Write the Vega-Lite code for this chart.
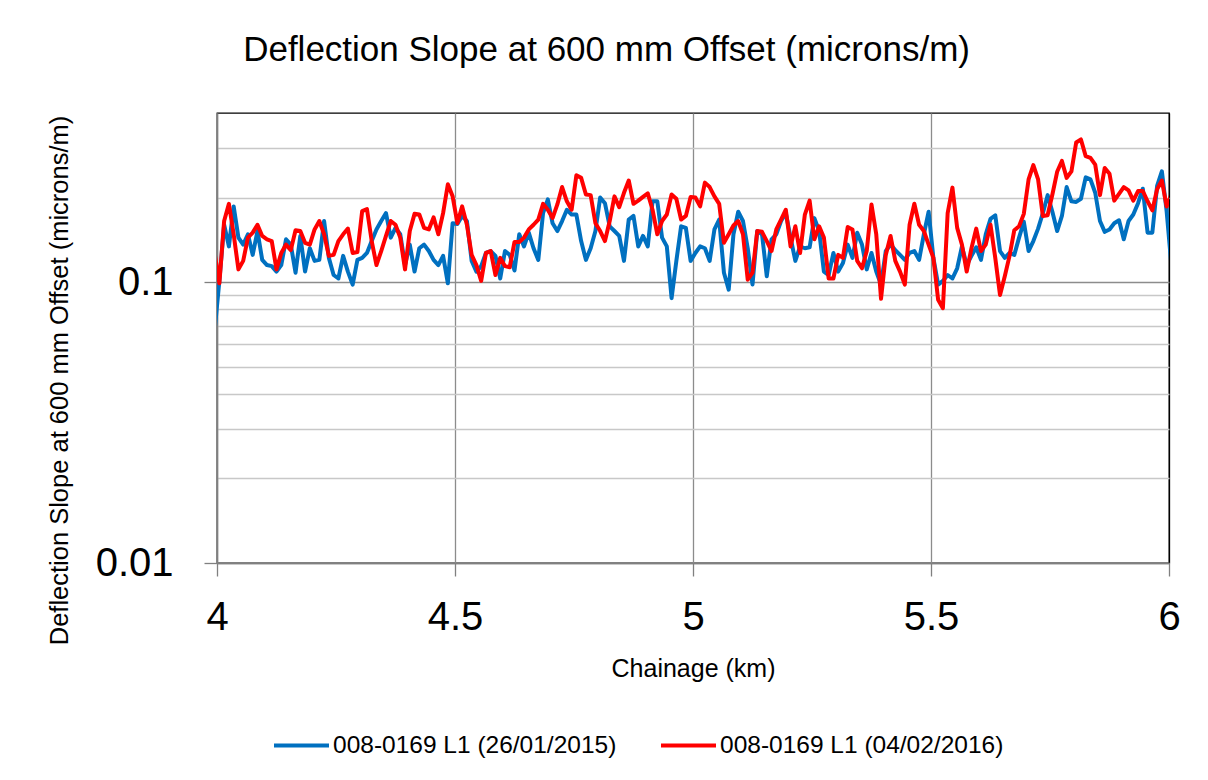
{
  "$schema": "https://vega.github.io/schema/vega-lite/v6.json",
  "width": 952,
  "height": 450,
  "autosize": "none",
  "padding": {"left": 217, "top": 113, "right": 39, "bottom": 217},
  "background": "white",
  "config": {"view": {"stroke": "#000000", "strokeWidth": 1.3}, "font": "Liberation Sans"},
  "title": {"text": "Deflection Slope at 600 mm Offset (microns/m)", "fontSize": 35, "font": "Liberation Sans", "fontWeight": "normal", "color": "#000000", "anchor": "middle", "frame": "bounds", "baseline": "bottom", "offset": 10, "dx": -7},
  "data": {"values": [
    {"c":3.995,"b":0.067,"r":0.127},{"c":4.005,"b":0.101,"r":0.099},{"c":4.015,"b":0.160,"r":0.165},{"c":4.025,"b":0.134,"r":0.190},{"c":4.035,"b":0.186,"r":0.148},{"c":4.045,"b":0.144,"r":0.111},{"c":4.055,"b":0.136,"r":0.119},{"c":4.065,"b":0.148,"r":0.144},{"c":4.075,"b":0.125,"r":0.150},{"c":4.085,"b":0.152,"r":0.160},{"c":4.095,"b":0.120,"r":0.146},
    {"c":4.105,"b":0.115,"r":0.142},{"c":4.115,"b":0.114,"r":0.140},{"c":4.125,"b":0.109,"r":0.111},{"c":4.135,"b":0.115,"r":0.127},{"c":4.145,"b":0.142,"r":0.136},{"c":4.155,"b":0.136,"r":0.130},{"c":4.165,"b":0.108,"r":0.153},{"c":4.175,"b":0.146,"r":0.152},{"c":4.185,"b":0.109,"r":0.138},{"c":4.195,"b":0.132,"r":0.136},
    {"c":4.205,"b":0.119,"r":0.154},{"c":4.215,"b":0.120,"r":0.165},{"c":4.225,"b":0.165,"r":0.148},{"c":4.235,"b":0.122,"r":0.124},{"c":4.245,"b":0.106,"r":0.125},{"c":4.255,"b":0.103,"r":0.140},{"c":4.265,"b":0.124,"r":0.148},{"c":4.275,"b":0.109,"r":0.155},{"c":4.285,"b":0.098,"r":0.127},{"c":4.295,"b":0.120,"r":0.128},
    {"c":4.305,"b":0.122,"r":0.179},{"c":4.315,"b":0.127,"r":0.182},{"c":4.325,"b":0.140,"r":0.140},{"c":4.335,"b":0.154,"r":0.115},{"c":4.345,"b":0.165,"r":0.129},{"c":4.355,"b":0.176,"r":0.146},{"c":4.365,"b":0.144,"r":0.165},{"c":4.375,"b":0.156,"r":0.160},{"c":4.385,"b":0.148,"r":0.144},{"c":4.395,"b":0.115,"r":0.111},
    {"c":4.405,"b":0.136,"r":0.152},{"c":4.415,"b":0.109,"r":0.175},{"c":4.425,"b":0.132,"r":0.174},{"c":4.435,"b":0.136,"r":0.156},{"c":4.445,"b":0.129,"r":0.154},{"c":4.455,"b":0.120,"r":0.170},{"c":4.465,"b":0.115,"r":0.148},{"c":4.475,"b":0.124,"r":0.176},{"c":4.485,"b":0.099,"r":0.223},{"c":4.495,"b":0.162,"r":0.202},
    {"c":4.505,"b":0.161,"r":0.162},{"c":4.515,"b":0.172,"r":0.186},{"c":4.525,"b":0.165,"r":0.160},{"c":4.535,"b":0.119,"r":0.125},{"c":4.545,"b":0.109,"r":0.115},{"c":4.555,"b":0.114,"r":0.101},{"c":4.565,"b":0.127,"r":0.127},{"c":4.575,"b":0.129,"r":0.129},{"c":4.585,"b":0.124,"r":0.106},{"c":4.595,"b":0.103,"r":0.122},
    {"c":4.605,"b":0.129,"r":0.114},{"c":4.615,"b":0.125,"r":0.113},{"c":4.625,"b":0.110,"r":0.139},{"c":4.635,"b":0.148,"r":0.139},{"c":4.645,"b":0.134,"r":0.144},{"c":4.655,"b":0.150,"r":0.154},{"c":4.665,"b":0.132,"r":0.160},{"c":4.675,"b":0.120,"r":0.167},{"c":4.685,"b":0.176,"r":0.190},{"c":4.695,"b":0.197,"r":0.181},
    {"c":4.705,"b":0.162,"r":0.169},{"c":4.715,"b":0.152,"r":0.189},{"c":4.725,"b":0.165,"r":0.218},{"c":4.735,"b":0.181,"r":0.194},{"c":4.745,"b":0.174,"r":0.181},{"c":4.755,"b":0.174,"r":0.240},{"c":4.765,"b":0.140,"r":0.235},{"c":4.775,"b":0.120,"r":0.205},{"c":4.785,"b":0.132,"r":0.204},{"c":4.795,"b":0.152,"r":0.162},
    {"c":4.805,"b":0.200,"r":0.152},{"c":4.815,"b":0.191,"r":0.140},{"c":4.825,"b":0.158,"r":0.165},{"c":4.835,"b":0.152,"r":0.202},{"c":4.845,"b":0.146,"r":0.185},{"c":4.855,"b":0.119,"r":0.208},{"c":4.865,"b":0.167,"r":0.230},{"c":4.875,"b":0.172,"r":0.190},{"c":4.885,"b":0.134,"r":0.195},{"c":4.895,"b":0.146,"r":0.201},
    {"c":4.905,"b":0.134,"r":0.207},{"c":4.915,"b":0.194,"r":0.181},{"c":4.925,"b":0.194,"r":0.148},{"c":4.935,"b":0.144,"r":0.165},{"c":4.945,"b":0.134,"r":0.174},{"c":4.955,"b":0.0877,"r":0.205},{"c":4.965,"b":0.119,"r":0.198},{"c":4.975,"b":0.158,"r":0.167},{"c":4.985,"b":0.156,"r":0.172},{"c":4.995,"b":0.119,"r":0.201},
    {"c":5.005,"b":0.127,"r":0.200},{"c":5.015,"b":0.134,"r":0.186},{"c":5.025,"b":0.132,"r":0.226},{"c":5.035,"b":0.119,"r":0.218},{"c":5.045,"b":0.154,"r":0.202},{"c":5.055,"b":0.167,"r":0.190},{"c":5.065,"b":0.108,"r":0.138},{"c":5.075,"b":0.094,"r":0.148},{"c":5.085,"b":0.148,"r":0.159},{"c":5.095,"b":0.178,"r":0.165},
    {"c":5.105,"b":0.165,"r":0.148},{"c":5.115,"b":0.132,"r":0.102},{"c":5.125,"b":0.098,"r":0.108},{"c":5.135,"b":0.152,"r":0.152},{"c":5.145,"b":0.148,"r":0.151},{"c":5.155,"b":0.105,"r":0.140},{"c":5.165,"b":0.142,"r":0.129},{"c":5.175,"b":0.148,"r":0.154},{"c":5.185,"b":0.165,"r":0.167},{"c":5.195,"b":0.176,"r":0.181},
    {"c":5.205,"b":0.144,"r":0.134},{"c":5.215,"b":0.119,"r":0.158},{"c":5.225,"b":0.134,"r":0.127},{"c":5.235,"b":0.132,"r":0.174},{"c":5.245,"b":0.133,"r":0.195},{"c":5.255,"b":0.169,"r":0.142},{"c":5.265,"b":0.152,"r":0.158},{"c":5.275,"b":0.109,"r":0.144},{"c":5.285,"b":0.106,"r":0.103},{"c":5.295,"b":0.127,"r":0.103},
    {"c":5.305,"b":0.109,"r":0.125},{"c":5.315,"b":0.117,"r":0.122},{"c":5.325,"b":0.136,"r":0.157},{"c":5.335,"b":0.122,"r":0.154},{"c":5.345,"b":0.150,"r":0.119},{"c":5.355,"b":0.136,"r":0.112},{"c":5.365,"b":0.111,"r":0.129},{"c":5.375,"b":0.127,"r":0.189},{"c":5.385,"b":0.109,"r":0.148},{"c":5.395,"b":0.098,"r":0.0872},
    {"c":5.405,"b":0.129,"r":0.125},{"c":5.415,"b":0.136,"r":0.146},{"c":5.425,"b":0.130,"r":0.119},{"c":5.435,"b":0.125,"r":0.109},{"c":5.445,"b":0.120,"r":0.098},{"c":5.455,"b":0.127,"r":0.160},{"c":5.465,"b":0.129,"r":0.190},{"c":5.475,"b":0.120,"r":0.160},{"c":5.485,"b":0.148,"r":0.152},{"c":5.495,"b":0.178,"r":0.136},
    {"c":5.505,"b":0.122,"r":0.122},{"c":5.515,"b":0.098,"r":0.0865},{"c":5.525,"b":0.101,"r":0.0807},{"c":5.535,"b":0.106,"r":0.176},{"c":5.545,"b":0.103,"r":0.217},{"c":5.555,"b":0.112,"r":0.156},{"c":5.565,"b":0.134,"r":0.136},{"c":5.575,"b":0.115,"r":0.109},{"c":5.585,"b":0.124,"r":0.132},{"c":5.595,"b":0.133,"r":0.155},
    {"c":5.605,"b":0.120,"r":0.129},{"c":5.615,"b":0.148,"r":0.136},{"c":5.625,"b":0.168,"r":0.160},{"c":5.635,"b":0.173,"r":0.122},{"c":5.645,"b":0.129,"r":0.090},{"c":5.655,"b":0.122,"r":0.105},{"c":5.665,"b":0.127,"r":0.124},{"c":5.675,"b":0.125,"r":0.153},{"c":5.685,"b":0.144,"r":0.158},{"c":5.695,"b":0.164,"r":0.175},
    {"c":5.705,"b":0.129,"r":0.232},{"c":5.715,"b":0.140,"r":0.261},{"c":5.725,"b":0.155,"r":0.232},{"c":5.735,"b":0.176,"r":0.172},{"c":5.745,"b":0.204,"r":0.173},{"c":5.755,"b":0.178,"r":0.205},{"c":5.765,"b":0.152,"r":0.247},{"c":5.775,"b":0.172,"r":0.270},{"c":5.785,"b":0.218,"r":0.235},{"c":5.795,"b":0.194,"r":0.248},
    {"c":5.805,"b":0.193,"r":0.314},{"c":5.815,"b":0.198,"r":0.322},{"c":5.825,"b":0.236,"r":0.281},{"c":5.835,"b":0.232,"r":0.277},{"c":5.845,"b":0.208,"r":0.262},{"c":5.855,"b":0.165,"r":0.204},{"c":5.865,"b":0.151,"r":0.255},{"c":5.875,"b":0.154,"r":0.243},{"c":5.885,"b":0.162,"r":0.195},{"c":5.895,"b":0.166,"r":0.206},
    {"c":5.905,"b":0.142,"r":0.218},{"c":5.915,"b":0.165,"r":0.212},{"c":5.925,"b":0.174,"r":0.195},{"c":5.935,"b":0.191,"r":0.211},{"c":5.945,"b":0.215,"r":0.211},{"c":5.955,"b":0.150,"r":0.194},{"c":5.965,"b":0.150,"r":0.180},{"c":5.975,"b":0.220,"r":0.214},{"c":5.985,"b":0.248,"r":0.230},{"c":5.995,"b":0.179,"r":0.186},
    {"c":6.005,"b":0.115,"r":0.205}
  ]},
  "layer": [
    {
      "mark": {"type": "line", "clip": true, "strokeWidth": 4, "strokeJoin": "round"},
      "encoding": {
        "x": {"field": "c", "type": "quantitative", "title": "Chainage (km)",
          "scale": {"domain": [4, 6], "nice": false, "zero": false},
          "axis": {"values": [4, 4.5, 5, 5.5, 6], "format": "~g", "labelFlush": false, "labelOverlap": false,
            "labelFont": "Liberation Sans", "labelFontSize": 40, "labelColor": "#000000", "labelPadding": 21,
            "tickSize": 13, "tickColor": "#808080", "tickWidth": 1.3,
            "grid": true, "gridColor": {"condition": {"test": "datum.value == 6", "value": "#000000"}, "value": "#8C8C8C"}, "gridWidth": 1.3,
            "domainColor": "#808080", "domainWidth": 1.5,
            "titleFont": "Liberation Sans", "titleFontSize": 25, "titleFontWeight": "normal", "titleColor": "#000000",
            "titleY": 93, "titleBaseline": "top"}},
        "y": {"field": "b", "type": "quantitative", "title": "Deflection Slope at 600 mm Offset (microns/m)",
          "scale": {"type": "log", "domain": [0.01, 0.4], "nice": false},
          "axis": {"values": [0.01, 0.02, 0.03, 0.04, 0.05, 0.06, 0.07, 0.08, 0.09, 0.1, 0.2, 0.3],
            "labelExpr": "datum.value == 0.1 ? '0.1' : (datum.value == 0.01 ? '0.01' : '')",
            "labelOverlap": false, "labelFont": "Liberation Sans", "labelFontSize": 40, "labelColor": "#000000", "labelPadding": 31,
            "tickSize": 13, "tickWidth": 1.3,
            "tickColor": {"condition": {"test": "datum.value == 0.1 || datum.value == 0.01", "value": "#808080"}, "value": "transparent"},
            "grid": true, "gridWidth": 1.3,
            "gridColor": {"condition": {"test": "datum.value == 0.1 || datum.value == 0.01", "value": "#8C8C8C"}, "value": "#C8C8C8"},
            "domainColor": "#808080", "domainWidth": 1.5,
            "titleFont": "Liberation Sans", "titleFontSize": 25.5, "titleFontWeight": "normal", "titleColor": "#000000",
            "titleX": -150, "titleY": 267, "titleAngle": -90, "titleBaseline": "alphabetic", "titleAlign": "center"}},
        "color": {"datum": "008-0169 L1 (26/01/2015)", "type": "nominal",
          "scale": {"domain": ["008-0169 L1 (26/01/2015)", "008-0169 L1 (04/02/2016)"], "range": ["#0070C0", "#FF0000"]},
          "legend": {"orient": "none", "legendX": 55, "legendY": 603, "direction": "horizontal", "title": null,
            "symbolType": "stroke", "symbolSize": 3025, "symbolStrokeWidth": 4,
            "labelFont": "Liberation Sans", "labelFontSize": 24.5, "labelColor": "#000000", "labelOffset": 2,
            "columnPadding": 36, "padding": 0, "labelLimit": 500}}
      }
    },
    {
      "mark": {"type": "line", "clip": true, "strokeWidth": 4, "strokeJoin": "round"},
      "encoding": {
        "x": {"field": "c", "type": "quantitative", "title": "Chainage (km)"},
        "y": {"field": "r", "type": "quantitative", "title": "Deflection Slope at 600 mm Offset (microns/m)"},
        "color": {"datum": "008-0169 L1 (04/02/2016)", "type": "nominal"}
      }
    }
  ]
}
